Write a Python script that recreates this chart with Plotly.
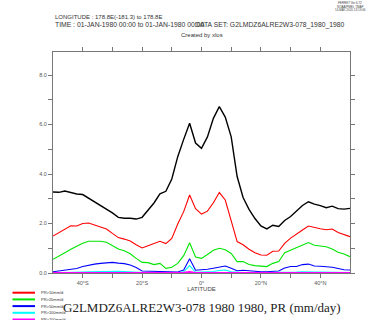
import plotly.graph_objects as go

# latitude grid (deg, negative = south)
lat = list(range(-50, 52, 2))

pr_total = [3.27, 3.26, 3.31, 3.24, 3.19, 3.17, 3.02, 2.88, 2.75, 2.58,
            2.43, 2.25, 2.21, 2.21, 2.18, 2.25, 2.52, 2.83, 3.20, 3.30,
            3.80, 4.70, 5.40, 6.05, 5.25, 5.04, 5.50, 6.25, 6.72, 6.30,
            5.50, 3.90, 3.05, 2.57, 2.20, 1.90, 1.78, 1.93, 1.88, 2.12,
            2.28, 2.50, 2.73, 2.88, 2.78, 2.72, 2.64, 2.70, 2.60, 2.58, 2.61]

pr_10 = [1.49, 1.63, 1.80, 1.91, 1.90, 2.00, 2.02, 1.93, 1.86, 1.78,
         1.60, 1.43, 1.37, 1.29, 1.14, 1.01, 1.10, 1.19, 1.28, 1.19,
         1.40, 1.98, 2.48, 3.15, 2.60, 2.38, 2.50, 2.84, 3.25, 2.95,
         2.14, 1.27, 1.14, 0.96, 0.82, 0.73, 0.72, 0.88, 0.89, 1.20,
         1.41, 1.56, 1.74, 1.90, 1.83, 1.79, 1.75, 1.78, 1.64, 1.54, 1.47]

pr_20 = [0.55, 0.67, 0.82, 0.96, 1.09, 1.20, 1.28, 1.28, 1.28, 1.24,
         1.09, 0.97, 0.90, 0.78, 0.59, 0.43, 0.42, 0.34, 0.39, 0.19,
         0.23, 0.39, 0.70, 1.22, 0.65, 0.59, 0.75, 0.92, 1.00, 0.94,
         0.79, 0.46, 0.46, 0.34, 0.30, 0.28, 0.26, 0.39, 0.46, 0.82,
         0.92, 1.04, 1.13, 1.23, 1.12, 1.10, 1.06, 0.97, 0.84, 0.77, 0.66]

pr_50 = [0.05, 0.08, 0.12, 0.15, 0.18, 0.26, 0.32, 0.36, 0.39, 0.42,
         0.43, 0.40, 0.38, 0.32, 0.22, 0.08, 0.07, 0.07, 0.05, 0.04,
         0.03, 0.04, 0.12, 0.58, 0.11, 0.12, 0.15, 0.19, 0.24, 0.28,
         0.19, 0.09, 0.11, 0.08, 0.05, 0.05, 0.05, 0.07, 0.08, 0.20,
         0.26, 0.26, 0.34, 0.36, 0.28, 0.27, 0.26, 0.23, 0.18, 0.13, 0.12]

pr_100 = [0.01, 0.01, 0.02, 0.02, 0.03, 0.04, 0.05, 0.06, 0.07, 0.08,
          0.08, 0.07, 0.06, 0.04, 0.02, 0.01, 0.01, 0.01, 0.01, 0.01,
          0.01, 0.01, 0.05, 0.30, 0.03, 0.03, 0.04, 0.06, 0.10, 0.12,
          0.05, 0.02, 0.02, 0.01, 0.01, 0.01, 0.01, 0.01, 0.02, 0.03,
          0.04, 0.04, 0.05, 0.06, 0.04, 0.04, 0.03, 0.03, 0.02, 0.02, 0.02]

pr_200 = [0.00, 0.00, 0.00, 0.00, 0.00, 0.00, 0.00, 0.01, 0.01, 0.01,
          0.01, 0.01, 0.00, 0.00, 0.00, 0.00, 0.00, 0.00, 0.00, 0.00,
          0.00, 0.00, 0.01, 0.04, 0.00, 0.00, 0.00, 0.01, 0.02, 0.02,
          0.01, 0.00, 0.00, 0.00, 0.00, 0.00, 0.00, 0.00, 0.00, 0.00,
          0.00, 0.00, 0.01, 0.01, 0.00, 0.00, 0.00, 0.00, 0.00, 0.00, 0.00]

series = [
    ('PR', pr_total, '#000000', 1.4),
    ('PR>10mm/d', pr_10, '#ff0000', 1.1),
    ('PR>20mm/d', pr_20, '#00e600', 1.1),
    ('PR>50mm/d', pr_50, '#0000ff', 1.1),
    ('PR>100mm/d', pr_100, '#00ffff', 1.1),
    ('PR>200mm/d', pr_200, '#ff00ff', 2.0),
]

x_ticks = [-40, -30, -20, -10, 0, 10, 20, 30, 40]
x_ticktext = ['40\u00b0S', '', '20\u00b0S', '', '0\u00b0', '', '20\u00b0N', '', '40\u00b0N']
y_ticks = [0, 1, 2, 3, 4, 5, 6, 7, 8]
y_ticktext = ['0.0', '', '2.0', '', '4.0', '', '6.0', '', '8.0']

W, H = 381, 320
L, R, T, B = 53, 31, 52, 47
pw, ph = W - L - R, H - T - B


def px(x):
    return (x - L) / pw


def py(y):
    return (H - B - y) / ph


fig = go.Figure()
for name, vals, col, lw in series:
    fig.add_trace(go.Scatter(x=lat, y=vals, mode='lines', name=name,
                             line=dict(color=col, width=lw), showlegend=False))

axis_style = dict(showline=True, linecolor='#777777', linewidth=1, mirror='ticks',
                  ticks='outside', ticklen=4, tickcolor='#777777', showgrid=False,
                  zeroline=False, tickfont=dict(family='Liberation Sans', size=5.5, color='#555555'))

fig.update_layout(
    width=W, height=H,
    margin=dict(l=L, r=R, t=T, b=B, autoexpand=False),
    paper_bgcolor='white', plot_bgcolor='white',
    xaxis=dict(range=[-50, 50], tickvals=x_ticks, ticktext=x_ticktext,
               title=dict(text='LATITUDE', standoff=2,
                          font=dict(family='Liberation Sans', size=6, color='#444444')),
               **axis_style),
    yaxis=dict(range=[0, 8.93], tickvals=y_ticks, ticktext=y_ticktext, **axis_style),
)

hdr = dict(family='Liberation Sans', size=6, color='#333333')
hdr2 = dict(family='Liberation Sans', size=6.8, color='#333333')
tiny = dict(family='Liberation Sans', size=3, color='#444444')
notes = [
    (53, 17, 'LONGITUDE : 178.8E(-181.3) to 178.8E', 'left', hdr),
    (53, 25, 'TIME : 01-JAN-1980 00:00 to 01-JAN-1980 00:00', 'left', hdr2),
    (347, 25, 'DATA SET: G2LMDZ6ALRE2W3-078_1980_1980', 'right', hdr2),
    (202, 34.5, 'Created by xlos', 'center', hdr),
    (350, 3.5, 'FERRET Ver.6.72', 'center', tiny),
    (350, 6.5, 'NOAA/PMEL TMAP', 'center', tiny),
    (350, 9.5, '14-MAY-2020 13:13:06', 'center', tiny),
    (202, 307, 'G2LMDZ6ALRE2W3-078 1980 1980, PR (mm/day)', 'center',
     dict(family='Liberation Serif', size=13, color='#222222')),
]
for x, y, txt, anc, f in notes:
    fig.add_annotation(x=px(x), y=py(y), xref='paper', yref='paper', text=txt,
                       showarrow=False, xanchor=anc, yanchor='middle', font=f)

# legend drawn by hand (Ferret-style key below the plot)
for i, (name, vals, col, lw) in enumerate(series[1:]):
    yk = 292.7 + i * 6.7
    fig.add_shape(type='line', xref='paper', yref='paper',
                  x0=px(12.5), x1=px(35), y0=py(yk), y1=py(yk),
                  line=dict(color=col, width=2))
    fig.add_annotation(x=px(38.5), y=py(yk), xref='paper', yref='paper', text=name,
                       showarrow=False, xanchor='left', yanchor='middle',
                       font=dict(family='Liberation Sans', size=4, color='#333333'))

fig.write_html('out.html', config={'displayModeBar': False},
               post_script="document.body.style.margin='0';"
               "document.body.style.overflow='hidden';")
